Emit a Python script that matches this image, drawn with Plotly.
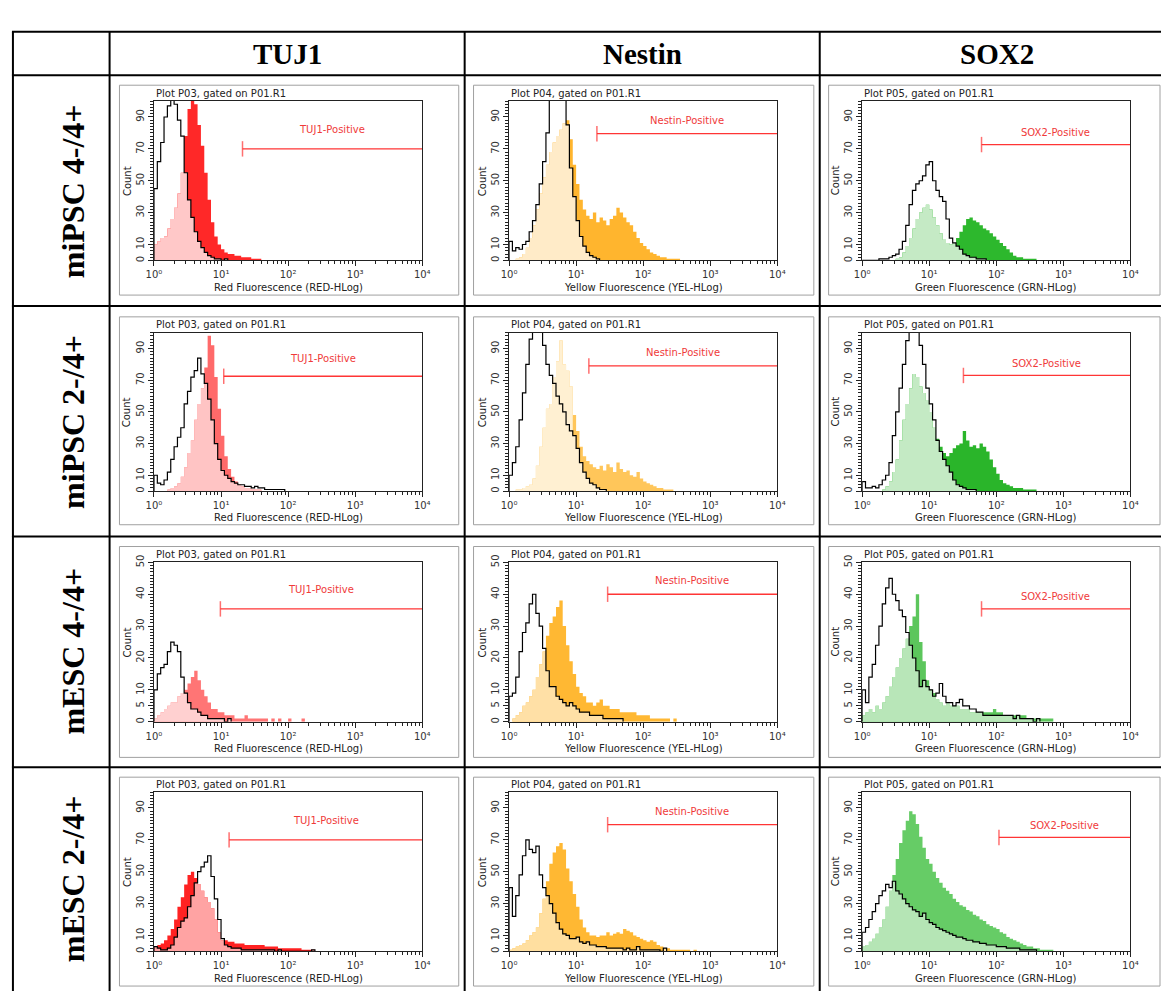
import math
import plotly.graph_objects as go

W, H = 1169, 993

# ---------------- labels ----------------
markers = ["TUJ1", "Nestin", "SOX2"]
sample_names = ["miPSC 4-/4+", "miPSC 2-/4+", "mESC 4-/4+", "mESC 2-/4+"]
plot_ids = ["P03", "P04", "P05"]
x_titles = ["Red Fluorescence (RED-HLog)", "Yellow Fluorescence (YEL-HLog)", "Green Fluorescence (GRN-HLog)"]
gate_names = ["TUJ1-Positive", "Nestin-Positive", "SOX2-Positive"]
x_tick_vals = [0, 1, 2, 3, 4]
x_tick_text = ["10⁰", "10¹", "10²", "10³", "10⁴"]
y_max_rows = [100, 100, 50, 100]
y_ticks_rows = [[0, 10, 30, 50, 70, 90], [0, 10, 30, 50, 70, 90],
                [0, 5, 10, 20, 30, 40, 50], [0, 10, 30, 50, 70, 90]]

# channel width in decades (20 channels per decade, first channel starts at 10^0)
CHANNEL_DECADES = 0.05

# ---------------- histogram counts (control = black outline, sample = filled) ----------------
# row 1: miPSC 4-/4+
ctrl_tuj1_r1 = [45, 62, 74, 90, 97, 102, 98, 88, 78, 55, 38, 27, 18, 12, 8, 5, 3, 2, 1, 1, 0, 1]
samp_tuj1_r1 = [10, 12, 14, 15, 20, 26, 33, 42, 55, 78, 95, 102, 98, 85, 72, 55, 38, 24, 15, 10, 7, 5, 4, 4,
                3, 3, 2, 2, 2, 1, 1, 1]
ctrl_nestin_r1 = [12, 6, 8, 7, 10, 12, 18, 25, 35, 48, 62, 80, 105, 115, 118, 112, 105, 85, 58, 40, 25, 15, 9,
                  5, 3, 2, 1]
samp_nestin_r1 = [0, 0, 1, 2, 4, 8, 14, 22, 32, 42, 52, 60, 68, 74, 78, 82, 86, 88, 76, 60, 48, 38, 32, 28, 26,
                  30, 24, 27, 25, 22, 26, 28, 33, 30, 27, 24, 22, 18, 14, 11, 9, 7, 5, 4, 3, 2, 2, 1, 1, 1, 1]
ctrl_sox2_r1 = [0, 0, 0, 0, 0, 1, 1, 1, 2, 3, 4, 7, 12, 22, 35, 44, 48, 50, 53, 60, 62, 50, 44, 40, 37, 26, 14,
                11, 9, 7, 4, 3, 2, 2, 1, 1, 1]
samp_sox2_r1 = [0, 0, 0, 0, 0, 0, 0, 0, 0, 0, 1, 2, 5, 9, 14, 20, 26, 30, 33, 35, 32, 27, 22, 17, 13, 11, 10, 11,
                14, 18, 22, 26, 27, 25, 24, 22, 20, 19, 17, 15, 13, 11, 9, 7, 5, 3, 2, 2, 1, 1, 1, 1]

# row 2: miPSC 2-/4+
ctrl_tuj1_r2 = [10, 5, 4, 7, 12, 20, 28, 34, 40, 55, 63, 72, 76, 84, 74, 68, 58, 45, 30, 20, 13, 10, 8, 6, 5,
                4, 4, 3, 3, 2, 3, 2, 2, 1, 1, 1, 1, 1, 1]
samp_tuj1_r2 = [0, 0, 0, 0, 1, 2, 3, 5, 9, 15, 24, 32, 45, 55, 65, 78, 98, 92, 72, 52, 35, 22, 14, 9, 6, 4, 3,
                2, 2, 1, 1, 1]
ctrl_nestin_r2 = [10, 18, 28, 45, 62, 80, 96, 105, 108, 104, 92, 80, 73, 68, 60, 55, 50, 42, 38, 35, 27, 18, 12,
                  8, 5, 4, 2, 1, 1]
samp_nestin_r2 = [0, 0, 1, 1, 2, 3, 4, 8, 16, 28, 40, 52, 55, 72, 82, 95, 80, 76, 66, 48, 38, 28, 22, 19, 17,
                  15, 14, 16, 13, 17, 15, 12, 18, 14, 12, 13, 10, 9, 12, 8, 6, 5, 4, 3, 2, 2, 1, 1, 1]
ctrl_sox2_r2 = [6, 2, 2, 3, 2, 4, 7, 10, 18, 35, 50, 65, 80, 95, 105, 110, 102, 92, 80, 65, 55, 45, 32, 25, 20,
                16, 12, 7, 4, 3, 2, 1, 1, 1]
samp_sox2_r2 = [0, 0, 0, 0, 0, 0, 1, 3, 6, 12, 20, 32, 45, 55, 65, 74, 72, 66, 62, 57, 50, 40, 33, 28, 24, 22,
                24, 27, 29, 30, 38, 32, 28, 29, 27, 30, 28, 25, 20, 15, 11, 7, 5, 4, 3, 2, 2, 2, 1, 1, 1, 1]

# row 3: mESC 4-/4+
ctrl_tuj1_r3 = [10, 15, 17, 18, 22, 25, 24, 22, 14, 9, 6, 4, 4, 3, 2, 2, 1, 1, 1, 1, 1, 0, 1]
samp_tuj1_r3 = [1, 2, 3, 4, 5, 6, 6, 8, 9, 10, 12, 14, 16, 13, 10, 8, 6, 4, 4, 3, 3, 2, 2, 2, 1, 1, 1, 2, 1, 1,
                1, 1, 1, 1, 0, 1, 0, 1, 0, 0, 1, 0, 0, 0, 1]
ctrl_nestin_r3 = [8, 9, 14, 22, 28, 31, 37, 40, 34, 30, 23, 16, 11, 11, 8, 7, 6, 5, 6, 5, 4, 3, 3, 3, 2, 2, 2,
                  2, 1, 1, 1, 1, 1, 1]
samp_nestin_r3 = [0, 1, 2, 3, 5, 6, 8, 10, 14, 18, 22, 27, 31, 33, 36, 38, 30, 24, 19, 15, 11, 9, 8, 6, 6, 5,
                  6, 7, 5, 5, 4, 4, 4, 3, 3, 3, 3, 3, 2, 2, 2, 2, 1, 1, 1, 1, 1, 1, 0, 1]
ctrl_sox2_r3 = [10, 6, 14, 18, 24, 30, 37, 42, 45, 40, 38, 35, 33, 28, 24, 20, 16, 11, 13, 11, 10, 8, 9, 12, 8,
                6, 6, 5, 6, 7, 5, 5, 4, 4, 3, 3, 2, 2, 2, 2, 2, 2, 2, 2, 2, 1, 2, 1, 1, 1, 1, 0, 1]
samp_sox2_r3 = [2, 3, 4, 3, 5, 4, 6, 8, 11, 14, 17, 20, 23, 26, 30, 33, 40, 25, 19, 13, 10, 9, 7, 6, 5, 6, 5, 5,
                5, 4, 4, 4, 3, 3, 3, 3, 3, 3, 3, 4, 3, 3, 2, 2, 2, 2, 2, 2, 2, 1, 1, 1, 1, 1, 1, 1, 1]

# row 4: mESC 2-/4+
ctrl_tuj1_r4 = [3, 2, 1, 1, 2, 4, 9, 15, 19, 21, 28, 35, 43, 50, 53, 56, 60, 47, 33, 20, 8, 4, 3, 2, 2, 2, 1,
                1, 1, 1, 1, 1, 1, 1, 1, 1, 0, 1, 0, 0, 0, 0, 0, 0, 0, 0, 0, 1]
samp_tuj1_r4 = [3, 4, 5, 7, 10, 14, 20, 28, 34, 42, 48, 50, 46, 42, 38, 34, 31, 27, 20, 12, 7, 7, 6, 6, 5, 5, 5,
                4, 4, 4, 4, 4, 4, 3, 3, 3, 3, 2, 2, 2, 2, 2, 2, 2, 1, 1, 1, 1]
ctrl_nestin_r4 = [40, 22, 35, 48, 60, 70, 64, 62, 66, 48, 40, 35, 30, 24, 18, 14, 11, 10, 8, 8, 9, 6, 5, 6, 4,
                  4, 3, 3, 3, 2, 2, 2, 2, 2, 1, 2, 1, 1, 3, 1, 1, 1, 1, 1, 1, 0, 2]
samp_nestin_r4 = [1, 2, 3, 4, 5, 7, 10, 12, 15, 24, 33, 44, 55, 62, 66, 68, 64, 52, 44, 36, 28, 20, 15, 12, 10,
                  10, 9, 10, 10, 12, 10, 11, 12, 11, 14, 13, 12, 10, 9, 8, 7, 6, 7, 6, 4, 3, 2, 2, 1, 1, 1, 1,
                  1, 1, 0, 1]
ctrl_sox2_r4 = [12, 15, 20, 25, 30, 35, 38, 42, 40, 44, 38, 36, 33, 30, 28, 26, 25, 22, 24, 20, 18, 17, 15, 14,
                13, 12, 11, 10, 9, 9, 8, 7, 7, 6, 6, 5, 5, 4, 4, 4, 3, 3, 3, 2, 2, 2, 2, 1, 1, 1, 1, 1]
samp_sox2_r4 = [3, 4, 6, 8, 11, 15, 20, 28, 38, 48, 58, 68, 76, 82, 88, 86, 80, 72, 65, 58, 55, 50, 46, 43, 40,
                38, 36, 33, 31, 29, 28, 26, 25, 23, 22, 20, 19, 17, 16, 15, 14, 12, 11, 9, 8, 7, 6, 5, 4, 3, 3,
                2, 2, 1, 1, 1, 1]

controls = [[ctrl_tuj1_r1, ctrl_nestin_r1, ctrl_sox2_r1],
            [ctrl_tuj1_r2, ctrl_nestin_r2, ctrl_sox2_r2],
            [ctrl_tuj1_r3, ctrl_nestin_r3, ctrl_sox2_r3],
            [ctrl_tuj1_r4, ctrl_nestin_r4, ctrl_sox2_r4]]
samples = [[samp_tuj1_r1, samp_nestin_r1, samp_sox2_r1],
           [samp_tuj1_r2, samp_nestin_r2, samp_sox2_r2],
           [samp_tuj1_r3, samp_nestin_r3, samp_sox2_r3],
           [samp_tuj1_r4, samp_nestin_r4, samp_sox2_r4]]

# channels below this index are shown entirely in the light shade
all_light_channels = [[0, 0, 0], [0, 19, 0], [0, 0, 0], [0, 0, 0]]

# gate marker: start (decades), level (count), label level (count)
gate_start = [[1.32, 1.31, 1.78], [1.04, 1.19, 1.51], [0.99, 1.47, 1.78], [1.12, 1.47, 2.04]]
gate_level = [[70, 79.5, 72.7], [72.5, 79, 73], [35.4, 40, 35.4], [70, 79.5, 71.5]]
gate_label_level = [[82, 88, 80], [84, 87.5, 80.6], [41.6, 44.4, 39.4], [82, 88, 79]]

# ---------------- styles ----------------
dark_colors = [["#FF2828", "#FFB52E", "#2DB82D"],
               ["#FF6A6A", "#FFC65A", "#2AB52A"],
               ["#FF7575", "#FFB833", "#5CC65C"],
               ["#FF2222", "#FFB833", "#66CC66"]]
light_colors = [["#FFC8C8", "#FFEBC8", "#C5EAC5"],
                ["#FFC4C4", "#FFF0D2", "#C4EAC4"],
                ["#FFD0D0", "#FFE0A6", "#B8E6B8"],
                ["#FFA3A3", "#FFDFA0", "#B5E5B5"]]

col_plot_x = [(148, 420), (508, 780), (866, 1138)]
row_plot_y = [(94, 255), (328, 488), (560, 721), (792, 953)]
col_box_x = [(113, 457), (472, 817), (832, 1168)]
row_box_y = [(78, 290), (312, 522), (544, 757), (777, 988)]

GATE_RED = "#FF3535"
AX_COL = "#222222"
PANEL_FONT = "DejaVu Sans"
SERIF = "Liberation Serif"


def fx(p):
    return p / W


def fy(p):
    return 1 - p / H


fig = go.Figure()
shapes = []
annotations = []
minor_x = [math.log10(k) + d for d in range(4) for k in range(2, 10)]

for r in range(4):
    for c in range(3):
        n = r * 3 + c + 1
        xa = "x" if n == 1 else f"x{n}"
        ya = "y" if n == 1 else f"y{n}"
        ctrl = controls[r][c]
        samp = samples[r][c]

        s_edges = [i * CHANNEL_DECADES for i in range(len(samp) + 1)]
        c_edges = [i * CHANNEL_DECADES for i in range(len(ctrl) + 1)]
        ctrl_full = ctrl + [0] * max(0, len(samp) - len(ctrl))
        cut = all_light_channels[r][c]
        light = [s if i < cut else min(s, k) for i, (s, k) in enumerate(zip(samp, ctrl_full))]

        # sample histogram (dark) and overlapped part (light)
        fig.add_trace(go.Scatter(x=[0] + s_edges, y=[0] + samp + [0], mode="lines", line_shape="hv",
                                 line=dict(width=0, color=dark_colors[r][c]), fill="tozeroy",
                                 fillcolor=dark_colors[r][c], xaxis=xa, yaxis=ya, hoverinfo="skip"))
        fig.add_trace(go.Scatter(x=[0] + s_edges, y=[0] + light + [0], mode="lines", line_shape="hv",
                                 line=dict(width=0, color=light_colors[r][c]), fill="tozeroy",
                                 fillcolor=light_colors[r][c], xaxis=xa, yaxis=ya, hoverinfo="skip"))
        # control outline
        fig.add_trace(go.Scatter(x=[0] + c_edges, y=[0] + ctrl + [0], mode="lines", line_shape="hv",
                                 line=dict(width=1.2, color="#000000"), xaxis=xa, yaxis=ya, hoverinfo="skip"))
        # gate marker
        g = gate_start[r][c]
        gl = gate_level[r][c]
        fig.add_trace(go.Scatter(x=[g, 4], y=[gl, gl], mode="lines+markers",
                                 line=dict(width=1.3, color=GATE_RED),
                                 marker=dict(symbol="line-ns", size=[11, 0],
                                             line=dict(width=1.5, color=GATE_RED), color=GATE_RED),
                                 cliponaxis=False, xaxis=xa, yaxis=ya, hoverinfo="skip"))
        annotations.append(dict(x=(g + 4) / 2, y=gate_label_level[r][c], xref=xa, yref=ya,
                                text=gate_names[c], showarrow=False,
                                font=dict(family=PANEL_FONT, size=10, color="#F03A3A")))

        x0, x1 = col_plot_x[c]
        y0, y1 = row_plot_y[r]
        ymax = y_max_rows[r]
        fig.update_layout(**{
            ("xaxis" if n == 1 else f"xaxis{n}"): dict(
                domain=[fx(x0), fx(x1)], anchor=ya, range=[0, 4], tickvals=x_tick_vals,
                ticktext=x_tick_text, ticks="outside", ticklen=5, tickcolor=AX_COL,
                showline=True, mirror=True, linecolor=AX_COL, linewidth=1,
                showgrid=False, zeroline=False, fixedrange=True,
                tickfont=dict(family=PANEL_FONT, size=10, color="#333333"),
                minor=dict(tickvals=minor_x, ticks="outside", ticklen=3, tickcolor=AX_COL, showgrid=False)),
            ("yaxis" if n == 1 else f"yaxis{n}"): dict(
                domain=[fy(y1), fy(y0)], anchor=xa, range=[0, ymax],
                tickvals=y_ticks_rows[r], ticktext=[str(v) for v in y_ticks_rows[r]],
                tickangle=-90, ticks="outside", ticklen=5, tickcolor=AX_COL,
                showline=True, mirror=True, linecolor=AX_COL, linewidth=1,
                showgrid=False, zeroline=False, fixedrange=True,
                tickfont=dict(family=PANEL_FONT, size=10, color="#333333"),
                minor=dict(dtick=ymax / 50, ticks="outside", ticklen=3, tickcolor=AX_COL, showgrid=False)),
        })

        # panel frame (grey box around each embedded plot)
        bx0, bx1 = col_box_x[c]
        by0, by1 = row_box_y[r]
        shapes.append(dict(type="rect", xref="paper", yref="paper", x0=fx(bx0), x1=fx(bx1),
                           y0=fy(by1), y1=fy(by0), line=dict(color="#A0A0A0", width=1),
                           fillcolor="white", layer="below"))
        # panel title
        annotations.append(dict(x=fx(x0), y=fy(y0 - 8), xref="paper", yref="paper", xanchor="left",
                                yanchor="middle", showarrow=False,
                                text=f"Plot {plot_ids[c]}, gated on P01.R1",
                                font=dict(family=PANEL_FONT, size=10, color="#222222")))
        # x title
        annotations.append(dict(x=fx((x0 + x1) / 2), y=fy(y1 + 27), xref="paper", yref="paper",
                                xanchor="center", yanchor="middle", showarrow=False, text=x_titles[c],
                                font=dict(family=PANEL_FONT, size=10, color="#222222")))
        # y title
        annotations.append(dict(x=fx(x0 - 27), y=fy((y0 + y1) / 2), xref="paper", yref="paper",
                                xanchor="center", yanchor="middle", showarrow=False, text="Count",
                                textangle=-90, font=dict(family=PANEL_FONT, size=10, color="#222222")))

# ---------------- table frame ----------------
TOP, LEFT = 24, 5
row_lines = [TOP, 68, 301, 534, 767]
col_lines = [LEFT, 103, 463, 823]
for yy in row_lines:
    shapes.append(dict(type="line", xref="paper", yref="paper", x0=fx(LEFT - 1), x1=1,
                       y0=fy(yy), y1=fy(yy), line=dict(color="black", width=2)))
for xx in col_lines:
    shapes.append(dict(type="line", xref="paper", yref="paper", x0=fx(xx), x1=fx(xx),
                       y0=fy(TOP), y1=0, line=dict(color="black", width=2)))

header_x = [283, 643, 1003]
for c in range(3):
    annotations.append(dict(x=fx(header_x[c]), y=fy(46), xref="paper", yref="paper", showarrow=False,
                            xanchor="center", yanchor="middle", text=f"<b>{markers[c]}</b>",
                            font=dict(family=SERIF, size=29, color="black")))
row_label_y = [185, 418, 650, 880]
for r in range(4):
    annotations.append(dict(x=fx(66), y=fy(row_label_y[r]), xref="paper", yref="paper", showarrow=False,
                            xanchor="center", yanchor="middle", textangle=-90,
                            text=f"<b>{sample_names[r]}</b>",
                            font=dict(family=SERIF, size=32, color="black")))

fig.update_layout(width=W, height=H, margin=dict(l=0, r=0, t=0, b=0), autosize=False,
                  paper_bgcolor="white", plot_bgcolor="white", showlegend=False,
                  shapes=shapes, annotations=annotations)

fig.write_html("out.html", config={"displayModeBar": False, "staticPlot": True},
               post_script="document.body.style.margin='0';document.body.style.padding='0';"
                           "document.documentElement.style.overflow='hidden';")
